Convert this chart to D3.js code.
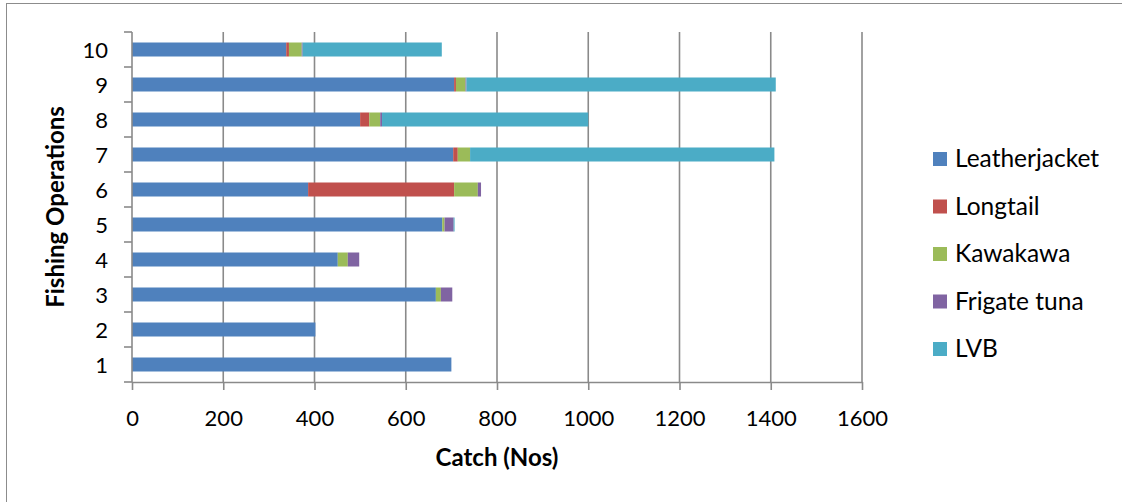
<!DOCTYPE html>
<html>
<head>
<meta charset="utf-8">
<script src="https://cdn.jsdelivr.net/npm/d3@7"></script>
<style>
  html, body { margin: 0; padding: 0; background: #fff; }
  svg { display: block; }
  text { font-family: Lato, "Open Sans", sans-serif; fill: #000; }
</style>
</head>
<body>
<svg id="chart" width="1122" height="502"></svg>
<script>
const operations = ["1", "2", "3", "4", "5", "6", "7", "8", "9", "10"];
const seriesNames = ["Leatherjacket", "Longtail", "Kawakawa", "Frigate tuna", "LVB"];
const leatherjacket = [700, 402, 666, 451, 680, 386, 704, 500, 706, 338];
const longtail      = [0, 0, 0, 0, 0, 320, 10, 20, 4, 6];
const kawakawa      = [0, 0, 11, 22, 5, 52, 27, 24, 21, 28];
const frigateTuna   = [0, 0, 25, 25, 20, 7, 0, 4, 2, 2];
const lvb           = [0, 0, 0, 0, 2, 0, 667, 452, 678, 305];
const xTicks = [0, 200, 400, 600, 800, 1000, 1200, 1400, 1600];
const colors = ["#4F81BD", "#C0504D", "#9BBB59", "#8064A2", "#4BACC6"];

const seriesValues = [leatherjacket, longtail, kawakawa, frigateTuna, lvb];
const rows = operations.map((op, i) => {
  const r = { op };
  seriesNames.forEach((s, j) => r[s] = seriesValues[j][i]);
  return r;
});

const svg = d3.select("#chart");
const pLeft = 132, pRight = 862, pTop = 32, pBottom = 382;

// outer border (frame runs past the right and bottom edges of the picture)
svg.append("rect").attr("x", 6.5).attr("y", 3.5).attr("width", 1125).attr("height", 510)
  .attr("fill", "none").attr("stroke", "#8c8c8c").attr("stroke-width", 1);

const x = d3.scaleLinear().domain([0, 1600]).range([pLeft, pRight]);
const y = d3.scaleBand().domain(operations.slice().reverse()).range([pTop, pBottom])
  .paddingInner(0.6).paddingOuter(0.3);

const gridColor = "#8a8a8a";

// gridlines
svg.append("g").selectAll("line").data(xTicks.filter(d => d > 0)).join("line")
  .attr("x1", d => x(d)).attr("x2", d => x(d)).attr("y1", pTop).attr("y2", pBottom)
  .attr("stroke", gridColor).attr("stroke-width", 1.6);

// bars
const stack = d3.stack().keys(seriesNames);
const stacked = stack(rows);
svg.append("g").selectAll("g").data(stacked).join("g")
  .attr("fill", (d, i) => colors[i])
  .selectAll("rect").data(d => d).join("rect")
  .attr("x", d => x(d[0]))
  .attr("width", d => Math.max(0, x(d[1]) - x(d[0])))
  .attr("y", d => y(d.data.op))
  .attr("height", y.bandwidth());

// x axis
const xAxis = svg.append("g").attr("transform", `translate(0,${pBottom})`)
  .call(d3.axisBottom(x).tickValues(xTicks).tickFormat(d3.format("d")).tickSize(8).tickSizeOuter(0));
xAxis.select(".domain").attr("stroke", gridColor).attr("stroke-width", 1.6);
xAxis.selectAll(".tick line").attr("stroke", gridColor).attr("stroke-width", 1.6);
xAxis.selectAll(".tick text").attr("y", 44).attr("dy", 0)
  .style("font-size", "22px").style("font-family", "Lato, sans-serif").attr("fill", "#000");

// y axis
svg.append("line").attr("x1", pLeft).attr("x2", pLeft).attr("y1", pTop).attr("y2", pBottom)
  .attr("stroke", gridColor).attr("stroke-width", 1.6);
const step = y.step();
const boundaries = operations.map(op => y(op) - (step - y.bandwidth()) / 2).concat([pBottom]);
svg.append("g").selectAll("line").data(boundaries).join("line")
  .attr("x1", pLeft - 8).attr("x2", pLeft).attr("y1", d => d).attr("y2", d => d)
  .attr("stroke", gridColor).attr("stroke-width", 1.6);
svg.append("g").selectAll("text").data(operations).join("text")
  .attr("x", 108).attr("y", d => y(d) + y.bandwidth() / 2 + 8)
  .attr("text-anchor", "end").style("font-size", "22px").text(d => d);

// axis titles
svg.append("text").attr("x", (pLeft + pRight) / 2).attr("y", 466)
  .attr("text-anchor", "middle").style("font-size", "24px").style("font-weight", "bold")
  .text("Catch (Nos)");
svg.append("text").attr("transform", `translate(64,${(pTop + pBottom) / 2}) rotate(-90)`)
  .attr("text-anchor", "middle").style("font-size", "24px").style("font-weight", "bold")
  .text("Fishing Operations");

// legend
const legend = svg.append("g").selectAll("g").data(seriesNames).join("g")
  .attr("transform", (d, i) => `translate(933,${159 + i * 47.5})`);
legend.append("rect").attr("x", 0).attr("y", -7).attr("width", 14).attr("height", 14)
  .attr("fill", (d, i) => colors[i]);
legend.append("text").attr("x", 22).attr("y", 8).style("font-size", "24.5px").text(d => d);
</script>
</body>
</html>
